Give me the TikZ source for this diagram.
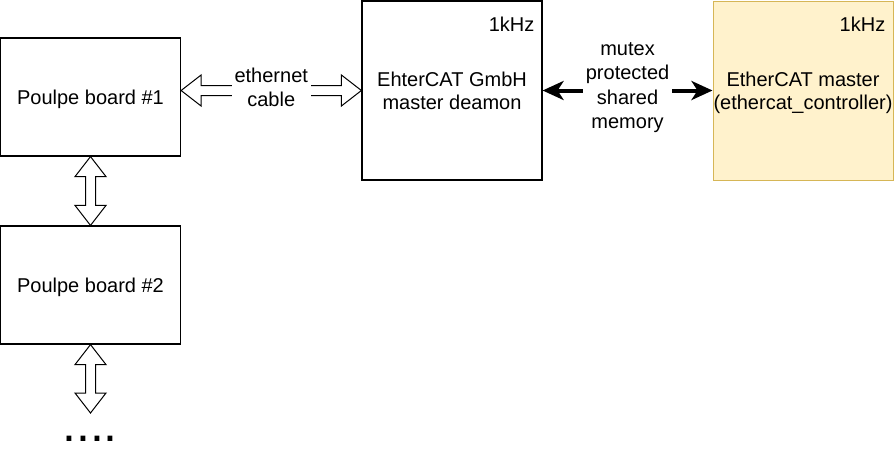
\documentclass[tikz,border=0pt]{standalone}
\usepackage{fontspec}
\setmainfont{Liberation Sans}
\usetikzlibrary{calc,positioning,arrows.meta}
\definecolor{noteyellow}{HTML}{FFF2CC}
\definecolor{noteborder}{HTML}{D6B656}
\tikzset{
  txt/.style={font=\fontsize{20}{23.5}\selectfont},
  block/.style={txt,draw,line width=1.2pt,minimum width=180pt,inner sep=0pt,align=center,text depth=-1.5pt},
  rate/.style={txt,anchor=east,inner sep=0pt},
  edgelabel/.style={font=\fontsize{20}{24.4}\selectfont,fill=white,align=center,inner sep=3pt},
  hollow/.style={draw,line width=1pt,fill=white,line join=miter},
  shm/.style={line width=4pt,{Stealth[length=21pt,width=19pt,inset=6pt]}-{Stealth[length=21pt,width=19pt,inset=6pt]}}
}
\newcommand{\dblarrow}[2]{%
  \draw[hollow] (#1) -- ($(#1)!20pt!(#2)!15.5pt!90:(#2)$) -- ($(#1)!20pt!(#2)!5pt!90:(#2)$)
    -- ($(#2)!20pt!(#1)!5pt!-90:(#1)$) -- ($(#2)!20pt!(#1)!15.5pt!-90:(#1)$) -- (#2)
    -- ($(#2)!20pt!(#1)!15.5pt!90:(#1)$) -- ($(#2)!20pt!(#1)!5pt!90:(#1)$)
    -- ($(#1)!20pt!(#2)!5pt!-90:(#2)$) -- ($(#1)!20pt!(#2)!15.5pt!-90:(#2)$) -- cycle;}

\begin{document}
\begin{tikzpicture}[x=1pt,y=-1pt]
\useasboundingbox (0,0) rectangle (894,456);
\node[block,minimum height=118pt] (b1) at (90.5,97) {Poulpe board \#1};
\node[block,minimum height=118pt] (b2) at (90.5,285) {Poulpe board \#2};
\node[block,minimum height=179pt] (dm) at (452,90.5) {EhterCAT GmbH\\master deamon};
\node[block,minimum height=179pt,line width=1pt,fill=noteyellow,draw=noteborder] (ec) at (803,90.5) {EtherCAT master\\(ethercat\_controller)};
\node[rate] (dmrate) at ([xshift=-8pt,yshift=-23.5pt]dm.north east) {1kHz};
\node[rate] (ecrate) at ([xshift=-8pt,yshift=-23.5pt]ec.north east) {1kHz};

\coordinate (ethl) at (b1.east |- dm.west);
\coordinate (tail) at (90.5,413);
\dblarrow{ethl}{dm.west}
\dblarrow{b1.south}{b2.north}
\dblarrow{b2.south}{tail}
\node[edgelabel,yshift=3pt] (eth) at ($(ethl)!0.5!(dm.west)$) {ethernet\\cable};

\draw[shm] (dm.east) -- node[edgelabel,yshift=3pt] (mem) {mutex\\protected\\shared\\memory} (ec.west);

\node[anchor=base,font=\fontsize{50}{50}\selectfont] (more) at (90,441) {....};
\end{tikzpicture}
\end{document}
